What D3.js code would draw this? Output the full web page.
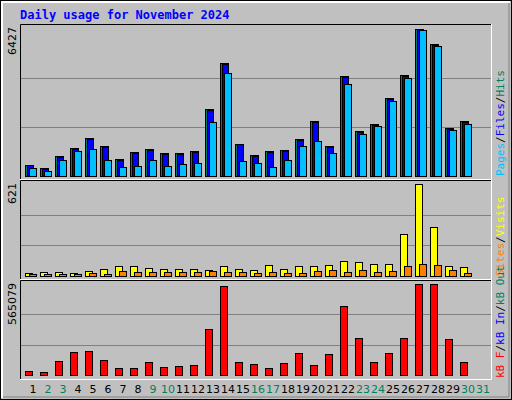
<!DOCTYPE html>
<html><head><meta charset="utf-8">
<script src="https://cdn.jsdelivr.net/npm/d3@7"></script>
<style>body{margin:0;background:#fff}</style>
</head><body><svg id="c"></svg>
<script>
// daily values
var days = d3.range(1, 32);
var weekend = [2, 3, 9, 10, 16, 17, 23, 24, 30, 31];
var hits = [496, 350, 889, 1224, 1661, 1311, 743, 1049, 1180, 1005, 1005, 1093, 2943, 4940, 1399, 918, 1093, 1137, 1617, 2404, 1311, 4372, 1967, 2273, 3410, 4415, 6427, 5771, 2098, 2404];
var files = [460, 320, 850, 1180, 1610, 1260, 700, 1000, 1140, 960, 960, 1050, 2900, 4880, 1399, 880, 1050, 1095, 1570, 2360, 1270, 4330, 1940, 2240, 3370, 4370, 6410, 5720, 2070, 2370];
var pages = [350, 219, 700, 1093, 1180, 700, 393, 437, 700, 437, 525, 568, 2361, 4503, 656, 568, 393, 700, 1311, 1530, 1005, 4022, 1836, 2186, 3279, 4284, 6383, 5683, 2011, 2273];
var visits = [20, 27, 27, 20, 36, 47, 68, 68, 54, 47, 47, 47, 40, 68, 47, 40, 74, 47, 68, 68, 74, 101, 95, 81, 81, 284, 621, 331, 68, 61];
var sites = [13, 13, 13, 13, 20, 13, 34, 27, 27, 27, 27, 27, 34, 27, 27, 20, 27, 20, 20, 34, 40, 27, 40, 27, 34, 68, 81, 74, 40, 20];
var kbytes = [24746, 18560, 86610, 142290, 148470, 92790, 43300, 43300, 80420, 49490, 55670, 61860, 284560, 550560, 80420, 68050, 43300, 74230, 136090, 61860, 129910, 426840, 228890, 80420, 136090, 228890, 562930, 562930, 222700, 80420];

var W = 512, H = 400;
var svg = d3.select("#c").attr("width", W).attr("height", H);
var mono = "'DejaVu Sans Mono', monospace";

svg.append("rect").attr("x", 0.5).attr("y", 0.5).attr("width", W - 1).attr("height", H - 1)
  .attr("fill", "#c0c0c0").attr("stroke", "#000");
svg.append("path").attr("d", "M2,398V2H510").attr("stroke", "#fff").attr("fill", "none").attr("stroke-width", 2);
svg.append("path").attr("d", "M3,397H509V3").attr("stroke", "#808080").attr("fill", "none").attr("stroke-width", 1);

svg.append("text").attr("x", 20).attr("y", 19).attr("font-family", mono).attr("font-weight", "bold")
  .attr("font-size", 12).attr("fill", "#0000ff").text("Daily usage for November 2024");

var x = d3.scaleBand().domain(days).range([25, 490]).paddingInner(0).paddingOuter(0);

function panel(top, bottom, base, maxY, maxVal, label) {
  svg.append("path").attr("d", `M20.5,${bottom}V${top + 0.5}H491`).attr("stroke", "#000").attr("fill", "none");
  svg.append("path").attr("d", `M20,${bottom - 0.5}H491.5V${top}`).attr("stroke", "#fff").attr("fill", "none");
  var y = d3.scaleLinear().domain([0, maxVal]).range([base, maxY]);
  [1 / 3, 2 / 3].forEach(function (f) {
    var gy = Math.round(base - (base - maxY) * f) + 0.5;
    svg.append("line").attr("x1", 21).attr("x2", 491).attr("y1", gy).attr("y2", gy)
      .attr("stroke", "#808080");
  });
  svg.append("text").attr("transform", `translate(16,${top + 3}) rotate(-90)`).attr("text-anchor", "end")
    .attr("font-family", "'DejaVu Sans', sans-serif").attr("font-size", 11).attr("fill", "#000").text(label);
  return y;
}

function bars(y, vals, dx, w, fill) {
  svg.append("g").selectAll("rect").data(vals).enter().append("rect")
    .attr("x", (d, i) => x(days[i]) + dx + 0.5)
    .attr("y", d => Math.round(y(d)) + 0.5)
    .attr("width", w)
    .attr("height", d => Math.max(1, Math.round(y(0) - y(d))))
    .attr("fill", fill).attr("stroke", "#000");
}

var y1 = panel(24, 180, 176, 29, 6427, "6427");
bars(y1, hits, 0, 8, "#00805c");
bars(y1, files, 2, 6, "#0000ff");
bars(y1, pages, 4, 7, "#00c0ff");

var y2 = panel(180, 280, 276, 184, 621, "621");
bars(y2, visits, 0, 7, "#ffff00");
bars(y2, sites, 4, 7, "#ff8000");

var y3 = panel(280, 380, 375, 284, 565079, "565079");
bars(y3, kbytes, 0, 7, "#ff0000");

svg.append("path").attr("d", "M20,379.5H491").attr("stroke", "#fff");

svg.append("g").selectAll("text").data(days).enter().append("text")
  .attr("x", d => x(d) + 8).attr("y", 393).attr("text-anchor", "middle")
  .attr("font-family", "'DejaVu Sans', sans-serif").attr("font-size", 11)
  .attr("fill", d => weekend.includes(d) ? "#00805c" : "#000").text(d => d);

function sideLabel(yBottom, parts) {
  var t = svg.append("text").attr("transform", `translate(504,${yBottom}) rotate(-90)`)
    .attr("font-family", mono).attr("font-size", 11);
  parts.forEach(function (p) { t.append("tspan").attr("fill", p[1]).text(p[0]); });
}
sideLabel(176, [["Pages", "#00c0ff"], ["/", "#000"], ["Files", "#0000ff"], ["/", "#000"], ["Hits", "#00805c"]]);
sideLabel(276, [["Sites", "#ff8000"], ["/", "#000"], ["Visits", "#ffff00"]]);
sideLabel(378, [["kB F", "#ff0000"], ["/", "#000"], ["kB In", "#0000ff"], ["/", "#000"], ["kB Out", "#00805c"]]);
</script></body></html>
